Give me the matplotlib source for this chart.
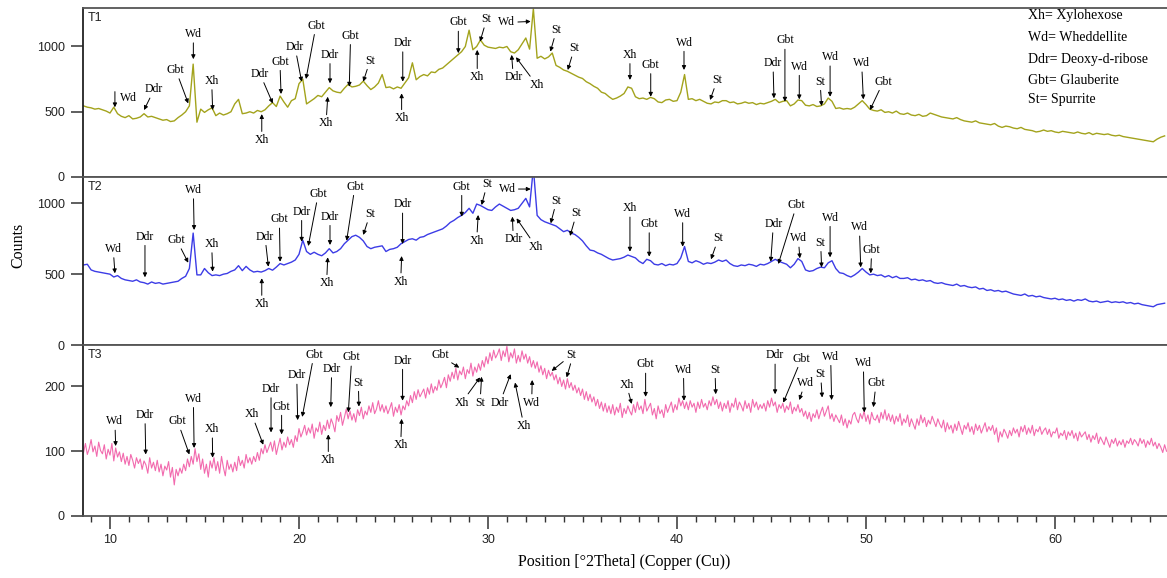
import numpy as np
import matplotlib
matplotlib.use("Agg")
import matplotlib.pyplot as plt

SERIF = "Liberation Serif"
SANS = "Liberation Sans"

t1_counts = [
    545, 535, 530, 520, 525, 515, 505, 490, 535, 485,
    465, 455, 470, 445, 450, 460, 485, 460, 465, 455,
    445, 435, 440, 425, 430, 455, 475, 500, 545, 865,
    420, 520, 495, 515, 530, 470, 490, 475, 485, 500,
    560, 595, 485, 490, 500, 490, 510, 500, 515, 545,
    570, 540, 620, 575, 535, 585, 600, 715, 750, 560,
    580, 600, 625, 615, 650, 685, 660, 650, 645, 680,
    710, 690, 695, 705, 735, 700, 670, 690, 720, 785,
    685, 690, 675, 690, 680, 720, 760, 875, 745, 770,
    785, 775, 805, 800, 825, 835, 860, 885, 910, 935,
    960, 1000, 1125, 975, 1000, 1050, 1010, 995, 990, 985,
    995, 990, 1000, 960, 950, 975, 1020, 1065, 980, 1290,
    910, 925, 905, 920, 950, 855, 840, 820, 810, 795,
    780, 765, 755, 730, 715, 695, 680, 650, 640, 615,
    595, 605, 620, 640, 690, 680, 615, 600, 605, 595,
    610, 600, 575, 570, 590, 595, 580, 585, 650, 785,
    595, 600, 585, 595, 580, 565, 560, 575, 570, 585,
    585, 570, 575, 560, 565, 575, 565, 570, 555, 565,
    560, 570, 580, 595, 570, 580, 585, 545, 560, 590,
    585, 550, 545, 555, 540, 545, 560, 605, 580, 525,
    530, 520, 525, 520, 535, 560, 585, 555, 520, 510,
    505, 515, 495, 500, 490, 505, 485, 480, 490, 475,
    470, 480, 465, 470, 490, 480, 470, 460, 455, 450,
    445, 455, 440, 430, 425, 420, 430, 415, 410, 405,
    400, 410, 390, 380, 390, 385, 375, 370, 380, 365,
    360, 355, 345, 350, 360, 350, 355, 345, 340, 350,
    345, 340, 335, 345, 335, 330, 340, 325, 335, 330,
    325, 330, 320, 315, 320, 310, 305, 300, 295, 290,
    285, 280, 275, 270, 290, 305, 315,
]

t2_counts = [
    565, 570, 530, 520, 515, 510, 505, 500, 480, 490,
    470, 460, 455, 450, 460, 445, 440, 430, 445, 435,
    440, 430, 435, 440, 445, 450, 470, 485, 540, 790,
    495, 495, 540, 510, 490, 495, 490, 500, 505, 520,
    530, 560, 525, 555, 530, 515, 520, 515, 525, 540,
    528, 550, 575, 565, 575, 585, 600, 640, 740, 660,
    640, 655, 640, 630, 650, 680, 650, 660, 680, 715,
    740, 765, 775, 760, 735, 695, 680, 690, 695, 700,
    660, 675, 680, 690, 715, 730, 745, 750, 740, 760,
    765, 780, 790, 800, 810, 820, 840, 865, 880, 900,
    915, 935, 965, 930, 995, 985, 970, 955, 950, 975,
    995, 980, 965, 950, 955, 965, 1000, 1035, 975, 1250,
    915, 885, 870, 860, 850, 840, 820, 800, 810, 790,
    780, 760, 735, 700, 670, 665, 650, 640, 625, 610,
    600, 605, 610, 620, 635, 625, 615, 590, 575, 605,
    595, 570, 565, 575, 560, 570, 565, 575, 615, 695,
    590, 580, 595, 585, 570, 580, 575, 585, 600, 590,
    600, 575, 560, 555, 565, 560, 570, 565, 555, 570,
    565, 575, 590, 605, 590, 580, 570, 545, 570, 610,
    590, 530, 520, 525, 540, 550, 545, 580, 595, 540,
    510, 505, 490, 480, 495, 515, 540, 515, 495, 500,
    490, 495, 480, 490, 475, 485, 470, 470, 475, 460,
    465, 455, 460, 450, 455, 440, 435, 440, 430, 425,
    420, 430, 415, 420, 410, 405, 410, 395, 400, 385,
    390, 380, 385, 375, 380, 370, 360, 355, 350, 360,
    345, 350, 340, 345, 335, 330, 325, 330, 320, 325,
    315, 320, 310, 320, 315, 325, 310, 305, 310, 300,
    305, 310, 300, 305, 300, 305, 295, 300, 290, 295,
    285, 280, 275, 270, 285, 290, 295,
]

t3_counts = [
    98, 112, 95, 104, 118, 99, 108, 92, 114, 101,
    96, 110, 88, 103, 94, 112, 85, 105, 91, 99,
    84, 97, 80, 92, 78, 95, 86, 74, 90, 81,
    88, 72, 85, 79, 66, 90, 74, 83, 70, 86,
    68, 80, 62, 77, 71, 84, 60, 75, 48, 72,
    62, 74, 66, 80, 70, 88, 76, 92, 80, 104,
    84, 96, 72, 88, 66, 80, 60, 85, 74, 90,
    70, 84, 66, 92, 75, 62, 86, 72, 80, 68,
    83, 70, 92, 78, 86, 74, 95, 82, 90, 80,
    92, 84, 98, 86, 104, 96, 110, 98, 106, 114,
    100, 116, 95, 108, 120, 102, 114, 106, 122, 110,
    118, 106, 124, 115, 135, 122, 130, 140, 125, 136,
    128, 142, 120, 136, 130, 145, 126, 140, 132, 148,
    135, 150, 142, 130, 155, 146, 160, 140, 152, 165,
    150, 162, 148, 158, 145, 164, 155, 168, 150, 162,
    156, 170, 160, 175, 158, 165, 178, 162, 172, 160,
    170, 158, 166, 175, 154, 168, 160, 172, 156, 170,
    164, 178, 170, 186, 175, 192, 180, 195, 184, 190,
    196, 182, 198, 188, 204, 190, 200, 194, 210, 198,
    205, 214, 198, 218, 208, 222, 212, 228, 210, 224,
    218, 230, 212, 226, 220, 236, 216, 230, 222, 235,
    225, 240, 230, 246, 235, 252, 240, 256, 244, 250,
    258, 240, 255, 246, 262, 238, 252, 244, 258, 236,
    248, 238, 255, 242, 250, 236, 246, 230, 240, 228,
    238, 222, 232, 218, 228, 212, 225, 216, 222, 210,
    218, 204, 214, 200, 210, 196, 212, 198, 206, 194,
    202, 190, 198, 186, 196, 180, 192, 178, 188, 176,
    184, 170, 180, 166, 176, 162, 174, 160, 170, 158,
    172, 156, 168, 160, 174, 152, 166, 158, 170, 162,
    156, 172, 160, 176, 164, 170, 158, 180, 162, 168,
    174, 156, 166, 150, 170, 158, 164, 152, 172, 160,
    168, 176, 160, 172, 164, 182, 170, 178, 166, 176,
    164, 178, 168, 174, 160, 176, 166, 180, 168, 174,
    164, 178, 170, 184, 172, 180, 166, 176, 162, 174,
    166, 178, 160, 174, 168, 182, 164, 176, 170, 162,
    178, 166, 174, 160, 180, 168, 176, 164, 172, 166,
    174, 162, 178, 168, 182, 170, 176, 160, 172, 166,
    174, 160, 170, 164, 176, 158, 168, 162, 172, 160,
    166, 154, 162, 150, 160, 146, 158, 152, 164, 150,
    160, 168, 154, 162, 170, 150, 158, 146, 156, 150,
    144, 156, 140, 150, 136, 148, 142, 156, 160, 150,
    144, 158, 150, 162, 146, 156, 142, 160, 150, 148,
    156, 144, 160, 150, 164, 148, 158, 146, 156, 142,
    154, 146, 158, 140, 150, 144, 156, 138, 150, 142,
    134, 150, 140, 156, 144, 152, 138, 148, 142, 154,
    146, 138, 150, 142, 136, 148, 130, 144, 134, 140,
    128, 142, 132, 146, 136, 126, 140, 134, 144, 130,
    138, 126, 142, 132, 140, 128, 136, 144, 130, 138,
    132, 140, 126, 136, 114, 130, 122, 134, 128, 120,
    132, 124, 136, 128, 134, 122, 138, 130, 140, 126,
    136, 128, 140, 124, 134, 130, 138, 126, 132, 136,
    126, 134, 122, 130, 128, 136, 120, 128, 124, 132,
    118, 130, 124, 132, 120, 128, 116, 130, 122, 126,
    130, 118, 126, 114, 124, 118, 128, 112, 122, 116,
    110, 122, 114, 106, 118, 112, 120, 108, 116, 110,
    118, 106, 116, 112, 120, 110, 118, 114, 108, 120,
    112, 118, 106, 116, 110, 120, 108, 114, 104, 112,
    106, 98, 110, 100,
]

# phase labels: (text, text x, text y, arrow tip x, arrow tip y)
t1_notes = [
    ("Wd", 10.95, 608, None, None),
    ("Ddr", 12.34, 672, 11.80, 513), ("Gbt", 13.48, 820, 14.14, 564),
    ("Wd", 14.41, 1095, 14.41, 903), ("Xh", 15.38, 736, 15.43, 513),
    ("Ddr", 17.94, 790, 18.61, 564), ("Xh", 18.03, 282, 18.03, 482),
    ("Gbt", 18.99, 884, 19.05, 636), ("Ddr", 19.79, 995, 20.14, 731),
    ("Gbt", 20.90, 1159, 20.37, 751), ("Ddr", 21.64, 936, 21.64, 718),
    ("Xh", 21.43, 410, 21.52, 615), ("Gbt", 22.73, 1082, 22.66, 692),
    ("St", 23.76, 892, 23.40, 731), ("Ddr", 25.49, 1026, 25.49, 731),
    ("Xh", 25.43, 449, 25.43, 641), ("Gbt", 28.43, 1184, 28.43, 949),
    ("St", 29.93, 1210, 29.58, 1038), ("Xh", 29.43, 764, 29.43, 974),
    ("Wd", 30.99, 1184, 32.26, 1192), ("Ddr", 31.34, 764, 31.25, 936),
    ("Xh", 32.58, 705, 31.48, 918), ("St", 33.63, 1128, 33.30, 961),
    ("St", 34.57, 987, 34.22, 820), ("Xh", 37.51, 936, 37.51, 744),
    ("Gbt", 38.61, 859, 38.61, 615), ("Wd", 40.37, 1030, 40.37, 820),
    ("St", 42.13, 744, 41.75, 590), ("Ddr", 45.08, 872, 45.13, 603),
    ("Gbt", 45.71, 1046, 45.71, 577), ("Wd", 46.47, 846, 46.47, 595),
    ("St", 47.57, 731, 47.65, 544), ("Wd", 48.10, 918, 48.10, 615),
    ("Wd", 49.77, 872, 49.86, 595), ("Gbt", 50.92, 731, 50.21, 513),
]
t1_arrows = [(10.26, 654, 10.26, 534)]

t2_notes = [
    ("Wd", 10.17, 678, 10.26, 506), ("Ddr", 11.85, 765, 11.85, 478),
    ("Gbt", 13.53, 741, 14.14, 581), ("Wd", 14.41, 1094, 14.45, 812),
    ("Xh", 15.38, 713, 15.43, 518), ("Ddr", 18.20, 765, 18.38, 553),
    ("Xh", 18.03, 289, 18.03, 471), ("Gbt", 18.96, 887, 19.00, 588),
    ("Ddr", 20.14, 941, 20.14, 729), ("Gbt", 21.02, 1066, 20.49, 699),
    ("Ddr", 21.64, 906, 21.64, 706), ("Xh", 21.46, 435, 21.52, 619),
    ("Gbt", 22.96, 1118, 22.52, 736), ("St", 23.76, 925, 23.40, 777),
    ("Ddr", 25.48, 993, 25.48, 713), ("Xh", 25.38, 447, 25.43, 628),
    ("Gbt", 28.61, 1118, 28.61, 906), ("St", 29.96, 1137, 29.66, 988),
    ("Xh", 29.40, 736, 29.48, 918), ("Wd", 31.02, 1101, 32.26, 1101),
    ("Ddr", 31.34, 746, 31.29, 906), ("Xh", 32.54, 694, 31.51, 894),
    ("St", 33.63, 1019, 33.32, 859), ("St", 34.69, 930, 34.34, 770),
    ("Xh", 37.51, 965, 37.51, 659), ("Gbt", 38.53, 854, 38.53, 624),
    ("Wd", 40.30, 925, 40.30, 694), ("St", 42.19, 753, 41.80, 605),
    ("Ddr", 45.10, 854, 44.96, 588), ("Gbt", 46.33, 988, 45.36, 572),
    ("Wd", 46.42, 753, 46.50, 612), ("St", 47.60, 722, 47.65, 548),
    ("Wd", 48.10, 899, 48.10, 619), ("Wd", 49.65, 831, 49.72, 548),
    ("Gbt", 50.30, 671, 50.25, 506),
]
t2_arrows = []

t3_notes = [
    ("Wd", 10.26, 146, 10.30, 108), ("Ddr", 11.85, 156, 11.89, 95),
    ("Gbt", 13.58, 146, 14.20, 95), ("Wd", 14.41, 181, 14.45, 105),
    ("Xh", 15.41, 134, 15.43, 90), ("Xh", 17.50, 157, 18.11, 110),
    ("Ddr", 18.52, 196, 18.52, 129), ("Gbt", 19.08, 169, 19.08, 126),
    ("Ddr", 19.88, 217, 19.93, 148), ("Gbt", 20.79, 249, 20.17, 153),
    ("Ddr", 21.73, 227, 21.68, 168), ("Xh", 21.55, 86, 21.55, 126),
    ("Gbt", 22.79, 245, 22.61, 160), ("St", 23.14, 206, 23.17, 169),
    ("Ddr", 25.48, 240, 25.48, 178), ("Xh", 25.38, 109, 25.43, 150),
    ("Gbt", 27.46, 248, 28.48, 229), ("Xh", 28.61, 175, 29.58, 214),
    ("St", 29.58, 175, 29.66, 215), ("Ddr", 30.63, 175, 31.20, 219),
    ("Xh", 31.90, 139, 31.43, 206), ("Wd", 32.31, 175, 32.34, 210),
    ("St", 34.39, 248, 33.37, 224), ("Xh", 37.33, 203, 37.60, 173),
    ("Gbt", 38.34, 234, 38.34, 184), ("Wd", 40.34, 226, 40.37, 178),
    ("St", 42.01, 226, 42.05, 188), ("Ddr", 45.19, 248, 45.19, 188),
    ("Gbt", 46.59, 243, 45.62, 175), ("Wd", 46.77, 205, 46.47, 179),
    ("St", 47.60, 219, 47.68, 183), ("Wd", 48.13, 246, 48.18, 179),
    ("Wd", 49.86, 236, 49.91, 160), ("Gbt", 50.53, 205, 50.39, 168),
]
t3_arrows = [(34.37, 235, 34.16, 214)]

legend_lines = ["Xh= Xylohexose", "Wd= Wheddellite", "Ddr= Deoxy-d-ribose",
                "Gbt= Glauberite", "St= Spurrite"]

panels = [
    ("T1", 0.2, t1_counts, "#a3a31c", 1.0, (0, 1295), [0, 500, 1000], t1_notes, t1_arrows),
    ("T2", 0.2, t2_counts, "#3c3ce6", 1.0, (0, 1186), [0, 500, 1000], t2_notes, t2_arrows),
    ("T3", 0.1, t3_counts, "#f26aae", 0.8, (0, 264), [0, 100, 200], t3_notes, t3_arrows),
]

W, H = 1167, 578
fig = plt.figure(figsize=(W / 100, H / 100), dpi=100)
# panel boxes in pixels (top, bottom)
boxes = [(8, 177), (177, 345), (345, 516)]
x_left_px, x_right_px = 83, 1170
xlim = (10 - 27 / 18.9, 10 + (x_right_px - 110) / 18.9)

arrow_kw = dict(arrowstyle="-|>", color="black", lw=0.7, mutation_scale=6,
                shrinkA=0, shrinkB=0)

axes = []
for i, (name, step, counts, color, lw, ylim, yticks, notes, arrows) in enumerate(panels):
    top, bot = boxes[i]
    ax = fig.add_axes([x_left_px / W, 1 - bot / H, (x_right_px - x_left_px) / W, (bot - top) / H])
    x = 8.6 + step * np.arange(len(counts))
    ax.plot(x, counts, color=color, lw=lw)
    ax.set_xlim(*xlim)
    ax.set_ylim(*ylim)
    ax.set_yticks(yticks)
    ax.tick_params(axis="y", direction="out", length=8.5, width=1.1, color="#333",
                   labelsize=9, labelcolor="#222", pad=4.5)
    for lab in ax.get_yticklabels():
        lab.set_family(SANS)
    for sp in ax.spines.values():
        sp.set_color("#555")
        sp.set_linewidth(1.3)
    ax.spines["left"].set_color("#222")
    ax.spines["right"].set_visible(False)
    ax.text(0.011, 0.975, name, transform=ax.transAxes, ha="center", va="top",
            fontsize=9, family=SANS, color="#222")

    for label, tx, ty, px, py in notes:
        if px is None:
            ax.text(tx, ty, label, ha="center", va="center", fontsize=8.5, family=SERIF)
        else:
            ax.annotate(label, xy=(px, py), xytext=(tx, ty), ha="center", va="center",
                        fontsize=8.5, family=SERIF, arrowprops=arrow_kw,
                        annotation_clip=False)
    for x0, y0, x1, y1 in arrows:
        ax.annotate("", xy=(x1, y1), xytext=(x0, y0), arrowprops=arrow_kw)
    axes.append(ax)

for ax in axes[:2]:
    ax.tick_params(axis="x", which="both", bottom=False, labelbottom=False)

ax3 = axes[2]
ax3.set_xticks([10, 20, 30, 40, 50, 60])
ax3.set_xticks(np.arange(9, 66), minor=True)
ax3.tick_params(axis="x", which="major", direction="out", length=9, width=1.1,
                color="#333", labelsize=9, labelcolor="#222", pad=4)
ax3.tick_params(axis="x", which="minor", direction="out", length=4, width=1.0, color="#333")
for lab in ax3.get_xticklabels():
    lab.set_family(SANS)

legend_y = [15, 37.3, 59.3, 80, 100]
for txt, py in zip(legend_lines, legend_y):
    axes[0].text((1028 - x_left_px) / (x_right_px - x_left_px), (177 - py) / 169, txt,
                 transform=axes[0].transAxes, ha="left", va="center",
                 fontsize=10, family=SERIF)

fig.text(624 / W, 1 - 562 / H, "Position [°2Theta] (Copper (Cu))", ha="center", va="center",
         fontsize=11.5, family=SERIF)
fig.text(18 / W, 1 - 245 / H, "Counts", ha="center", va="center", rotation=90,
         fontsize=11.5, family=SERIF)

fig.savefig("out.png", dpi=100)
